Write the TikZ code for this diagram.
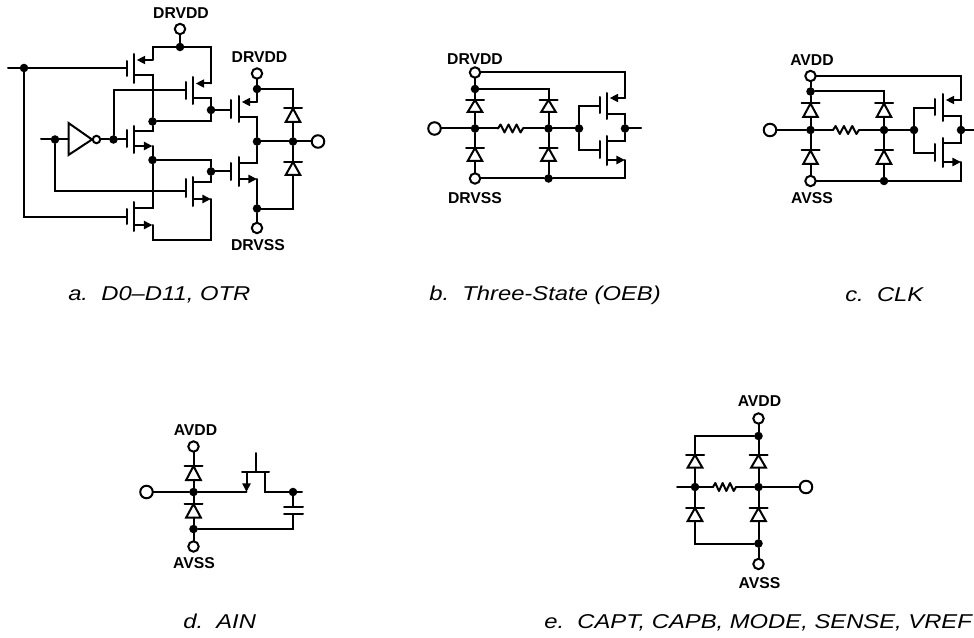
\documentclass[tikz,border=0pt]{standalone}
\usepackage{fontspec}
\setmainfont{Liberation Sans}
\newfontfamily\capfont[FakeStretch=1.19]{Liberation Sans}
\usetikzlibrary{arrows.meta}
\tikzset{
  wire/.style={line width=1.5pt,line cap=round,line join=miter,black},
  srcarrow/.style={wire,-{Triangle[length=6.4pt,width=6pt]},shorten >=#1},
  srcarrow/.default=0pt,
  dotnode/.style={circle,fill=black,inner sep=0pt,outer sep=0pt,minimum size=6.4pt},
  termS/.style={circle,draw=black,line width=1.5pt,fill=white,inner sep=0pt,outer sep=0pt,minimum size=7.8pt},
  termL/.style={circle,draw=black,line width=1.5pt,fill=white,inner sep=0pt,outer sep=0pt,minimum size=9.4pt},
  pin/.style={inner sep=0pt,font=\fontsize{11.8pt}{13pt}\selectfont\bfseries},
  caption/.style={inner sep=0pt,anchor=base west,font=\capfont\fontsize{15pt}{17pt}\selectfont\itshape}
}
% #1 name, #2 x, #3 bar y, #4 base y : diode pointing up
\newcommand{\diodeup}[4]{
  \coordinate (#1-a) at (#2,#3);
  \coordinate (#1-k) at (#2,#4);
  \draw[wire] (#2-9,#3) -- (#2+9,#3);
  \draw[wire] (#2,#3) -- (#2-7.3,#4) -- (#2+7.3,#4) -- cycle;
}
% #1 name, #2 plate x, #3 channel x, #4 #5 channel top/bottom, #6 #7 plate top/bottom, #8 gate y, #9 upper-stub y; lower-stub y in \mosb
\newcommand{\mosb}{0}
\newcommand{\mosfet}[9]{
  \coordinate (#1-g) at (#2,#8);
  \coordinate (#1-a) at (#3,#9);
  \coordinate (#1-b) at (#3,\mosb);
  \draw[wire] (#3,#4) -- (#3,#5);
  \draw[wire] (#2,#6) -- (#2,#7);
}
% #1 name, #2 x start, #3 x end, #4 y
\newcommand{\resistor}[4]{
  \coordinate (#1-l) at (#2,#4);
  \coordinate (#1-r) at (#3,#4);
  \draw[wire,line join=round] (#2,#4)
    -- ({#2+(#3-#2)*0.10},#4-4) -- ({#2+(#3-#2)*0.26},#4+4)
    -- ({#2+(#3-#2)*0.42},#4-4) -- ({#2+(#3-#2)*0.58},#4+4)
    -- ({#2+(#3-#2)*0.74},#4-4) -- ({#2+(#3-#2)*0.90},#4+4) -- (#3,#4);
}
\begin{document}
\begin{tikzpicture}[x=0.75pt,y=-0.75pt]
\useasboundingbox (0,0) rectangle (974,638);

%% ---------- panel a ----------
\node[pin] (alab1) at (181,13) {DRVDD};
\node[pin] (alab2) at (259.5,57.5) {DRVDD};
\node[pin] (alab3) at (258,245) {DRVSS};
\node[termS] (avdd1) at (180,29) {};
\node[termS] (avdd2) at (257,73.5) {};
\node[termS] (avss)  at (257,228) {};
\node[termL] (aout)  at (318,141.5) {};
\node[dotnode] (an1) at (24,68) {};
\node[dotnode] (an2) at (180,47) {};
\node[dotnode] (an3) at (152.5,121.5) {};
\node[dotnode] (an4) at (211,110) {};
\node[dotnode] (an5) at (113.5,139.5) {};
\node[dotnode] (an6) at (152.5,160) {};
\node[dotnode] (an7) at (211,171.5) {};
\node[dotnode] (an8) at (257,89) {};
\node[dotnode] (an9) at (257,141.5) {};
\node[dotnode] (an10) at (293,141.5) {};
\node[dotnode] (an11) at (257,208.5) {};
\node[dotnode] (an12) at (55,139.5) {};
\coordinate (ain1) at (8,68);
\coordinate (ain2) at (41,139.5);
\renewcommand{\mosb}{75}\mosfet{q1}{127}{134}{54}{83}{61}{76}{68}{60}
\renewcommand{\mosb}{98}\mosfet{q2}{186}{193}{77}{104}{82}{99}{90.5}{83.5}
\renewcommand{\mosb}{146}\mosfet{q3}{127}{134}{126}{153}{130}{147}{139.5}{131}
\renewcommand{\mosb}{199}\mosfet{q4}{186}{193}{177}{206}{179}{197}{191}{182}
\renewcommand{\mosb}{225}\mosfet{q5}{127}{134}{202}{231}{209}{224}{216.5}{207.5}
\renewcommand{\mosb}{117}\mosfet{q6}{231}{239}{96}{122}{100}{118}{110}{102}
\renewcommand{\mosb}{179}\mosfet{q7}{231}{239}{157}{186}{163}{180}{171.5}{163}
\coordinate (q1s) at (152.5,60);
\coordinate (q2s) at (211,83.5);
\coordinate (q3s) at (152.5,146);
\coordinate (q4s) at (211,199);
\coordinate (q5s) at (152.5,225);
\coordinate (q6s) at (257,102);
\coordinate (q7s) at (257,179);
\coordinate (abr) at (211,240);
\coordinate (abl) at (152.5,240);
\diodeup{ad1}{293}{108.5}{122}
\diodeup{ad2}{293}{162}{175}
% inverter
\coordinate (invin) at (68.5,139.5);
\coordinate (invout) at (92,139.5);
\node[circle,draw=black,line width=1.5pt,fill=white,inner sep=0pt,outer sep=0pt,minimum size=5.6pt] (invb) at (96.5,139.5) {};
\draw[wire] (68.5,123) -- (invout) -- (68.5,155) -- cycle;
% wires
\draw[wire] (ain1) -- (an1) -- (q1-g);
\draw[wire] (an1) |- (q5-g);
\draw[wire] (avdd1) -- (an2);
\draw[wire] (q1s) |- (an2);
\draw[wire] (an2) -| (q2s);
\draw[srcarrow=2pt] (q1s) -- (q1-a);
\draw[srcarrow=2pt] (q2s) -- (q2-a);
\draw[wire] (q1-b) -| (an3);
\draw[wire] (an3) -| (an4);
\draw[wire] (an4) |- (q2-b);
\draw[wire] (an4) -- (q6-g);
\draw[wire] (an5) |- (q2-g);
\draw[wire] (ain2) -- (an12) -- (invin);
\draw[wire] (invb) -- (an5) -- (q3-g);
\draw[wire] (an12) |- (q4-g);
\draw[wire] (q3-a) -| (an3);
\draw[srcarrow] (q3-b) -- (q3s);
\draw[wire] (q3s) -- (an6);
\draw[wire] (an6) -| (an7);
\draw[wire] (an7) |- (q4-a);
\draw[wire] (an7) -- (q7-g);
\draw[srcarrow] (q4-b) -- (q4s);
\draw[wire] (q4s) -- (abr) -- (abl) -- (q5s);
\draw[wire] (q5-a) -| (an6);
\draw[srcarrow] (q5-b) -- (q5s);
\draw[wire] (avdd2) -- (an8) -- (q6s);
\draw[srcarrow=2pt] (q6s) -- (q6-a);
\draw[wire] (an8) -| (ad1-a);
\draw[wire] (ad1-k) -- (an10);
\draw[wire] (q6-b) -| (an9);
\draw[wire] (q7-a) -| (an9);
\draw[wire] (an9) -- (an10) -- (aout);
\draw[wire] (ad2-a) -- (an10);
\draw[srcarrow] (q7-b) -- (q7s);
\draw[wire] (q7s) -- (an11) -- (avss);
\draw[wire] (an11) -| (ad2-k);
\node[caption] (acap) at (68,300) {a.\ \ D0–D11, OTR};

%% ---------- panel b ----------
\node[pin] (blab1) at (475,59.5) {DRVDD};
\node[pin] (blab2) at (475,198) {DRVSS};
\node[termS] (bvdd) at (475,72.5) {};
\node[termS] (bvss) at (475,178.5) {};
\node[termL] (bin)  at (434.5,128.5) {};
\node[dotnode] (bn1) at (475,89) {};
\node[dotnode] (bn2) at (475,128.5) {};
\node[dotnode] (bn3) at (548.5,128.5) {};
\node[dotnode] (bn4) at (579,128.5) {};
\node[dotnode] (bn5) at (625,128.5) {};
\node[dotnode] (bn6) at (548.5,178.5) {};
\coordinate (bout) at (641,128.5);
\coordinate (btr) at (625,72.5);
\coordinate (bq1s) at (625,98);
\coordinate (bq2s) at (625,160);
\coordinate (bbr) at (625,178.5);
\coordinate (bc1) at (548.5,89);
\diodeup{bd1}{475}{100}{112}
\diodeup{bd2}{548.5}{100}{112}
\diodeup{bd3}{475}{148}{161}
\diodeup{bd4}{548.5}{148}{161}
\resistor{br}{498}{523}{128.5}
\renewcommand{\mosb}{114.5}\mosfet{bq1}{600}{607}{93}{119}{97}{113}{106}{98}
\renewcommand{\mosb}{160}\mosfet{bq2}{600}{607}{136}{165}{141}{158}{150}{141}
\draw[wire] (bvdd) -- (btr) -- (bq1s);
\draw[srcarrow=2pt] (bq1s) -- (bq1-a);
\draw[wire] (bvdd) -- (bn1) -- (bd1-a);
\draw[wire] (bn1) -- (bc1) -- (bd2-a);
\draw[wire] (bin) -- (bn2) -- (br-l);
\draw[wire] (br-r) -- (bn3) -- (bn4);
\draw[wire] (bd1-k) -- (bn2) -- (bd3-a);
\draw[wire] (bd2-k) -- (bn3) -- (bd4-a);
\draw[wire] (bd3-k) -- (bvss);
\draw[wire] (bd4-k) -- (bn6);
\draw[wire] (bvss) -- (bn6) -- (bbr) -- (bq2s);
\draw[wire] (bn4) |- (bq1-g);
\draw[wire] (bn4) |- (bq2-g);
\draw[wire] (bq1-b) -| (bn5);
\draw[wire] (bq2-a) -| (bn5);
\draw[wire] (bn5) -- (bout);
\draw[srcarrow] (bq2-b) -- (bq2s);
\node[caption] (bcap) at (429,300) {b.\ \ Three-State (OEB)};

%% ---------- panel c ----------
\node[pin] (clab1) at (812,60.5) {AVDD};
\node[pin] (clab2) at (812,198) {AVSS};
\node[termS] (cvdd) at (810.5,76) {};
\node[termS] (cvss) at (810.5,181) {};
\node[termL] (cin)  at (770,130) {};
\node[dotnode] (cn1) at (810.5,91.5) {};
\node[dotnode] (cn2) at (810.5,130) {};
\node[dotnode] (cn3) at (884,130) {};
\node[dotnode] (cn4) at (914,130) {};
\node[dotnode] (cn5) at (961,130) {};
\node[dotnode] (cn6) at (884,181) {};
\coordinate (cout) at (974,130);
\coordinate (ctr) at (961,76);
\coordinate (cq1s) at (961,100);
\coordinate (cq2s) at (961,162);
\coordinate (cbr) at (961,181);
\coordinate (cc1) at (884,91.5);
\diodeup{cd1}{810.5}{103.5}{117}
\diodeup{cd2}{884}{103.5}{117}
\diodeup{cd3}{810.5}{150.5}{164}
\diodeup{cd4}{884}{150.5}{164}
\resistor{cr}{833}{859}{130}
\renewcommand{\mosb}{116.5}\mosfet{cq1}{935}{943}{94}{121}{99}{115}{108}{100}
\renewcommand{\mosb}{162}\mosfet{cq2}{935}{943}{138}{167}{144}{161}{153}{143}
\draw[wire] (cvdd) -- (ctr) -- (cq1s);
\draw[srcarrow=2pt] (cq1s) -- (cq1-a);
\draw[wire] (cvdd) -- (cn1) -- (cd1-a);
\draw[wire] (cn1) -- (cc1) -- (cd2-a);
\draw[wire] (cin) -- (cn2) -- (cr-l);
\draw[wire] (cr-r) -- (cn3) -- (cn4);
\draw[wire] (cd1-k) -- (cn2) -- (cd3-a);
\draw[wire] (cd2-k) -- (cn3) -- (cd4-a);
\draw[wire] (cd3-k) -- (cvss);
\draw[wire] (cd4-k) -- (cn6);
\draw[wire] (cvss) -- (cn6) -- (cbr) -- (cq2s);
\draw[wire] (cn4) |- (cq1-g);
\draw[wire] (cn4) |- (cq2-g);
\draw[wire] (cq1-b) -| (cn5);
\draw[wire] (cq2-a) -| (cn5);
\draw[wire] (cn5) -- (cout);
\draw[srcarrow] (cq2-b) -- (cq2s);
\node[caption] (ccap) at (845,301) {c.\ \ CLK};

%% ---------- panel d ----------
\node[pin] (dlab1) at (195.5,430) {AVDD};
\node[pin] (dlab2) at (194,563.5) {AVSS};
\node[termS] (dvdd) at (193.5,446.5) {};
\node[termS] (dvss) at (193.5,546.5) {};
\node[termL] (din)  at (146.5,492) {};
\node[dotnode] (dn1) at (193.5,492) {};
\node[dotnode] (dn2) at (193.5,529) {};
\node[dotnode] (dn3) at (293,492) {};
\diodeup{dd1}{193.5}{466}{480}
\diodeup{dd2}{193.5}{504}{517.5}
\coordinate (dmsl) at (246.5,472);
\coordinate (dmsb) at (246.5,492);
\coordinate (dmdl) at (265,472);
\coordinate (dmdb) at (265,492);
\coordinate (dmg) at (256,453);
\coordinate (dmb) at (256,472);
\coordinate (dout) at (302,492);
\coordinate (dcapt) at (293,507);
\coordinate (dcapb) at (293,514);
\coordinate (dcbr) at (293,529);
\draw[wire] (242,472) -- (269,472);
\draw[wire] (dmg) -- (dmb);
\draw[wire] (284,507) -- (303,507);
\draw[wire] (284,514) -- (303,514);
\draw[wire] (dvdd) -- (dd1-a);
\draw[wire] (dd1-k) -- (dn1) -- (dd2-a);
\draw[wire] (dd2-k) -- (dn2) -- (dvss);
\draw[wire] (din) -- (dn1) -- (dmsb);
\draw[srcarrow] (dmsl) -- (dmsb);
\draw[wire] (dmdl) -- (dmdb) -- (dn3) -- (dout);
\draw[wire] (dn3) -- (dcapt);
\draw[wire] (dcapb) -- (dcbr) -- (dn2);
\node[caption] (dcap) at (183,628) {d.\ \ AIN};

%% ---------- panel e ----------
\node[pin] (elab1) at (759.5,401) {AVDD};
\node[pin] (elab2) at (759.5,583) {AVSS};
\node[termS] (evdd) at (758.5,418.5) {};
\node[termS] (evss) at (758.5,564) {};
\node[termL] (eout) at (806,487) {};
\node[dotnode] (en1) at (758.5,436) {};
\node[dotnode] (en2) at (695,487) {};
\node[dotnode] (en3) at (758.5,487) {};
\node[dotnode] (en4) at (758.5,543.5) {};
\coordinate (ein) at (677,487);
\coordinate (ec1) at (695,436);
\coordinate (ec2) at (695,543.5);
\diodeup{ed1}{695}{455}{467.5}
\diodeup{ed2}{758.5}{455}{467.5}
\diodeup{ed3}{695}{508}{521}
\diodeup{ed4}{758.5}{508}{521}
\resistor{er}{713}{736}{487}
\draw[wire] (evdd) -- (en1) -- (ed2-a);
\draw[wire] (en1) -- (ec1) -- (ed1-a);
\draw[wire] (ein) -- (en2) -- (er-l);
\draw[wire] (er-r) -- (en3) -- (eout);
\draw[wire] (ed1-k) -- (en2) -- (ed3-a);
\draw[wire] (ed2-k) -- (en3) -- (ed4-a);
\draw[wire] (ed3-k) -- (ec2) -- (en4);
\draw[wire] (ed4-k) -- (en4) -- (evss);
\node[caption] (ecap) at (544,628) {e.\ \ CAPT, CAPB, MODE, SENSE, VREF};
\end{tikzpicture}
\end{document}
